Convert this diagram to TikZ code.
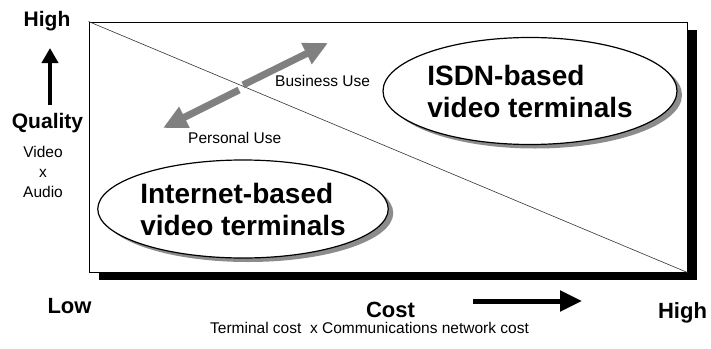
\documentclass[tikz,border=0pt]{standalone}
\usepackage{fontspec}
\setmainfont{Liberation Sans}
\usetikzlibrary{arrows.meta, positioning, shapes.geometric, shadows}

\begin{document}
\begin{tikzpicture}[
    x=1pt, y=-1pt,
    axis_big/.style={font=\fontsize{21}{24}\selectfont\bfseries, inner sep=0, anchor=base},
    axis_small/.style={font=\fontsize{15.5}{20}\selectfont, inner sep=0, anchor=base},
    terminal/.style={ellipse, draw=black, line width=1.2pt, fill=white, inner sep=0, align=left, font=\fontsize{28}{32}\selectfont\bfseries,
        drop shadow={fill=black!45, opacity=1, shadow xshift=5pt, shadow yshift=-4pt}},
    use_arrow/.style={-{Triangle[length=24pt, width=22pt]}, line width=7pt, draw=black!50},
    axis_arrow/.style={-{Triangle[length=15pt, width=16pt]}, line width=4pt}
]

\useasboundingbox (0,0) rectangle (711,348);

% --- Chart frame ---
\node (chart) [draw=black, line width=1pt, fill=white, minimum width=598pt, minimum height=250pt, inner sep=0,
    drop shadow={fill=black, opacity=1, shadow xshift=10pt, shadow yshift=-8pt}] at (388,147) {};
\draw [line width=0.6pt, black!80] (chart.north west) -- (chart.south east);

% --- Usage arrows ---
\coordinate (biz_from) at (243,85);
\coordinate (biz_to) at (328,43);
\coordinate (pers_from) at (239,90);
\coordinate (pers_to) at (163,128);
\draw [use_arrow] (biz_from) -- (biz_to);
\draw [use_arrow] (pers_from) -- (pers_to);
\node (business) [axis_small, anchor=base west] at (275,86) {Business Use};
\node (personal) [axis_small, anchor=base west] at (188,143) {Personal Use};

% --- Terminal groups ---
\node (isdn) [terminal, minimum width=294pt, minimum height=107pt] at (530,91) {ISDN-based\\video terminals};
\node (internet) [terminal, minimum width=284pt, minimum height=98pt] at (243,209) {Internet-based\\video terminals};

% --- Quality axis ---
\node (high_q) [axis_big] at (47,26) {High};
\node (quality) [axis_big] at (47.5,128) {Quality};
\node (media) [font=\fontsize{15.5}{20}\selectfont, align=center, inner sep=0, anchor=north] at (43,146) {Video\\x\\Audio};
\coordinate (q_low) at (50,105);
\coordinate (q_high) at (50,48);
\draw [axis_arrow] (q_low) -- (q_high);

% --- Cost axis ---
\node (low) [axis_big, font=\fontsize{22}{26}\selectfont\bfseries] at (69.5,313) {Low};
\node (cost) [axis_big, font=\fontsize{22}{26}\selectfont\bfseries] at (390.5,317) {Cost};
\node (high_c) [axis_big, font=\fontsize{22}{26}\selectfont\bfseries] at (682.5,318) {High};
\node (cost_desc) [axis_small] at (369.5,333) {Terminal cost\ \ x Communications network cost};
\coordinate (c_low) at (473,301);
\coordinate (c_high) at (582,301);
\draw [axis_arrow, line width=5pt, -{Triangle[length=22pt, width=20pt]}] (c_low) -- (c_high);

\end{tikzpicture}
\end{document}
